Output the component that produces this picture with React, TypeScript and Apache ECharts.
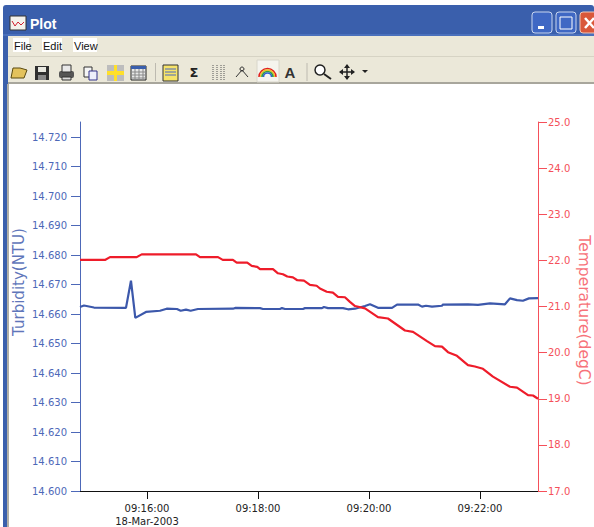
import React, { useEffect, useRef } from "react";
import * as echarts from "echarts";

// Seconds after 09:00:00
const turbidityTimes = [887.6,891.9,902.7,937.3,942.7,947.4,958.9,974.1,981.3,992.4,996.4,1002.2,1007.2,1015.1,1052.9,1055.9,1082.2,1085.4,1103.8,1105.9,1109.2,1128.6,1130.8,1149.2,1151.3,1155.7,1171.9,1177.3,1184.9,1195.7,1201.1,1209.7,1224.9,1230.3,1253,1257.3,1261.6,1268.1,1278.9,1280,1307,1317.8,1330.8,1347,1352.4,1360,1366.4,1372.9,1382.7];
const turbidityValues = [14.6624,14.6629,14.6622,14.6621,14.6713,14.6587,14.6607,14.6611,14.6618,14.6617,14.6611,14.6615,14.6611,14.6617,14.6618,14.6621,14.662,14.6617,14.6617,14.662,14.6617,14.6617,14.662,14.662,14.6624,14.662,14.662,14.6616,14.6618,14.6627,14.6633,14.6621,14.6621,14.6632,14.6632,14.6625,14.6628,14.6625,14.6628,14.6632,14.6633,14.6631,14.6636,14.6633,14.6653,14.6647,14.6645,14.6653,14.6654];
const temperatureTimes = [887.6,914.6,920,948.9,954.3,1013,1017.3,1036.8,1041.9,1052.9,1057,1068.4,1073.2,1079.2,1082.2,1096.2,1101.6,1107,1111.7,1117.8,1122.5,1129.7,1136.2,1143.4,1147,1154.3,1161,1166.5,1174,1179.4,1184.9,1195.7,1209.7,1220.5,1238.9,1247.6,1262.7,1271.3,1278.9,1285.4,1295.1,1307,1314.5,1323.2,1334,1352.4,1360,1371.9,1377.3,1382.7];
const temperatureValues = [22.01,22.01,22.07,22.07,22.13,22.13,22.07,22.07,22.01,22.01,21.95,21.95,21.88,21.86,21.81,21.81,21.72,21.7,21.65,21.63,21.57,21.56,21.47,21.45,21.39,21.32,21.3,21.21,21.2,21.1,21.01,20.96,20.77,20.74,20.48,20.45,20.25,20.14,20.13,20.01,19.93,19.73,19.7,19.65,19.48,19.26,19.24,19.08,19.07,19.0];
const timeTicks = [960, 1080, 1200, 1320];
const turbidityTicks = [14.6,14.61,14.62,14.63,14.64,14.65,14.66,14.67,14.68,14.69,14.7,14.71,14.72];
const menuItems = ["File", "Edit", "View"];
const dateLabel = "18-Mar-2003";

const BLUE = "#3c58ab";
const AXIS_BLUE = "#4d68b8";
const NAME_BLUE = "#5f76ba";
const RED = "#ee1c2a";
const AXIS_RED = "#f5505a";
const NAME_RED = "#f7727a";
const FONT = "'DejaVu Sans', sans-serif";

const fmtTime = (s: number) => {
  const m = Math.floor(s / 60);
  const sec = Math.round(s - m * 60);
  return `09:${String(m).padStart(2, "0")}:${String(sec).padStart(2, "0")}`;
};

const rect = (x: number, y: number, w: number, h: number, fill: string, extra: any = {}) => ({
  type: "rect", shape: { x, y, width: w, height: h, r: extra.r || 0 },
  style: { fill, stroke: extra.stroke, lineWidth: extra.lw || 1 }, silent: true,
});
const line = (x1: number, y1: number, x2: number, y2: number, stroke: string, lw = 1) => ({
  type: "line", shape: { x1, y1, x2, y2 }, style: { stroke, lineWidth: lw }, silent: true,
});
const txt = (x: number, y: number, text: string, fill: string, font: string, align = "left") => ({
  type: "text", x, y, style: { text, fill, font, textAlign: align, textVerticalAlign: "middle" }, silent: true,
});

function chrome(): any[] {
  const e: any[] = [];
  // window frame
  e.push(rect(0, 0, 594, 6, "#ffffff"));
  e.push(rect(3, 5, 591, 31, "#3a5fac", { r: 3 }));
  e.push(rect(3, 10, 5, 517, "#3a5fac"));
  e.push(rect(3, 34, 591, 2, "#4a70bc"));
  e.push(rect(8, 36, 586, 48, "#ebe8d9"));
  e.push(rect(8, 56, 586, 1, "#d6d3c4"));
  e.push(rect(8, 82, 586, 2, "#a8a69c"));
  e.push(rect(7, 84, 2, 443, "#b0aea6"));
  // title
  e.push(rect(10, 16, 16, 14, "#f4f2ec", { stroke: "#333333" }));
  e.push({ type: "polyline", shape: { points: [[12, 21], [15, 26], [18, 22], [21, 25], [24, 22]] }, style: { stroke: "#d02030", lineWidth: 1, fill: "none" }, silent: true });
  e.push(txt(30, 24, "Plot", "#ffffff", "bold 14px 'Liberation Sans', sans-serif"));
  // window buttons
  e.push(rect(532, 12, 20, 21, "#3f68c4", { stroke: "#c8d6f0", r: 3 }));
  e.push(rect(538, 26, 6, 3, "#ffffff"));
  e.push(rect(556, 12, 20, 21, "#3f68c4", { stroke: "#c8d6f0", r: 3 }));
  e.push(rect(560, 17, 12, 12, "none", { stroke: "#ffffff" }));
  e.push(rect(580, 12, 20, 21, "#d9583a", { stroke: "#eec8b8", r: 3 }));
  e.push(line(585, 18, 594, 28, "#ffffff", 2.5));
  e.push(line(594, 18, 585, 28, "#ffffff", 2.5));
  // menu
  const xs = [13, 42, 73];
  const ws = [16, 20, 24];
  menuItems.forEach((m, i) => {
    e.push(rect(xs[i], 38, ws[i], 14, "#ffffff"));
    e.push(txt(xs[i] + 1, 45.5, m, "#111111", "11px 'Liberation Sans', sans-serif"));
  });
  // toolbar: open
  e.push({ type: "polygon", shape: { points: [[11, 78], [13, 68], [20, 68], [27, 70], [24, 78]] }, style: { fill: "#e3c25c", stroke: "#5a4a10" }, silent: true });
  // save
  e.push(rect(35, 66, 14, 14, "#2f2f2f"));
  e.push(rect(38, 67, 8, 5, "#e8e8e0"));
  e.push(rect(38, 75, 8, 5, "#888888"));
  // print
  e.push(rect(59, 71, 15, 7, "#555555", { r: 2 }));
  e.push(rect(62, 65, 9, 7, "#e8e8e8", { stroke: "#333333" }));
  e.push(rect(62, 77, 9, 3, "#dddddd", { stroke: "#333333" }));
  // copy
  e.push(rect(84, 67, 8, 10, "#f5f5f5", { stroke: "#333333" }));
  e.push(rect(89, 71, 8, 9, "#eef0fa", { stroke: "#33338a" }));
  // crosshair
  e.push(rect(107, 65, 17, 16, "#bdbdbd"));
  e.push(rect(107, 71, 17, 4, "#ffe02a"));
  e.push(rect(114, 65, 3, 16, "#ffe02a"));
  // table
  e.push(rect(131, 66, 15, 14, "#e8e8e8", { stroke: "#222222" }));
  e.push(rect(131, 66, 15, 3, "#3a5fac"));
  [135, 139, 143].forEach((x) => e.push(line(x, 69, x, 80, "#888888")));
  [72, 75, 78].forEach((y) => e.push(line(131, y, 146, y, "#888888")));
  e.push(line(155.5, 63, 155.5, 81, "#bdbab0"));
  // note
  e.push(rect(163, 65, 15, 16, "#f6e36a", { stroke: "#333333" }));
  [69, 72, 75].forEach((y) => e.push(line(165, y, 176, y, "#4a68c0")));
  e.push(txt(194, 72, "Σ", "#222222", "bold 13px 'DejaVu Sans', sans-serif", "center"));
  // grid
  [213, 217, 221, 224].forEach((x) => e.push({ type: "line", shape: { x1: x, y1: 65, x2: x, y2: 80 }, style: { stroke: "#555555", lineDash: [1, 1] }, silent: true }));
  // peak
  e.push({ type: "polyline", shape: { points: [[236, 77], [242, 70], [248, 77]] }, style: { stroke: "#333333", fill: "none" }, silent: true });
  e.push({ type: "circle", shape: { cx: 242, cy: 69, r: 2 }, style: { fill: "none", stroke: "#333333" }, silent: true });
  // rainbow button
  e.push(rect(257, 60, 22, 22, "#f5f4ee", { stroke: "#d8d6ca" }));
  [["#e02020", 8.5], ["#f0c020", 7], ["#30a040", 5.5], ["#3060d0", 4]].forEach(([c, r]) =>
    e.push({ type: "arc", shape: { cx: 267.5, cy: 77, r: r as number, startAngle: Math.PI, endAngle: 2 * Math.PI }, style: { stroke: c as string, lineWidth: 1.6, fill: "none" }, silent: true }));
  // A
  e.push(txt(290, 72, "A", "#333333", "bold 15px 'Liberation Sans', sans-serif", "center"));
  e.push(line(307, 63, 307, 81, "#bdbab0"));
  // magnifier
  e.push({ type: "circle", shape: { cx: 320, cy: 70, r: 5 }, style: { fill: "#ffffff", stroke: "#222222", lineWidth: 1.5 }, silent: true });
  e.push(line(324, 74, 331, 79, "#222222", 2));
  // move
  e.push(line(340, 72, 354, 72, "#222222", 1.5));
  e.push(line(347, 65, 347, 79, "#222222", 1.5));
  e.push({ type: "polygon", shape: { points: [[347, 64], [344, 68], [350, 68]] }, style: { fill: "#222222" }, silent: true });
  e.push({ type: "polygon", shape: { points: [[347, 80], [344, 76], [350, 76]] }, style: { fill: "#222222" }, silent: true });
  e.push({ type: "polygon", shape: { points: [[339, 72], [343, 69], [343, 75]] }, style: { fill: "#222222" }, silent: true });
  e.push({ type: "polygon", shape: { points: [[355, 72], [351, 69], [351, 75]] }, style: { fill: "#222222" }, silent: true });
  // dropdown
  e.push({ type: "polygon", shape: { points: [[362, 70], [368, 70], [365, 73]] }, style: { fill: "#222222" }, silent: true });
  return e;
}

export default function App() {
  const ref = useRef<HTMLDivElement>(null);
  useEffect(() => {
    if (!ref.current) return;
    const chart = echarts.init(ref.current, undefined, { renderer: "svg" });
    chart.setOption({
      animation: false,
      backgroundColor: "#ffffff",
      grid: { left: 80, right: 56, top: 122, bottom: 36, outerBoundsMode: "none" },
      xAxis: {
        type: "value", min: 887.6, max: 1382.7, splitLine: { show: false },
        axisLine: { onZero: false, lineStyle: { color: "#111111", width: 1 } },
        axisTick: { customValues: timeTicks, length: 8, lineStyle: { color: "#111111" } },
        axisLabel: {
          customValues: timeTicks, margin: 11, color: "#222222", fontFamily: FONT, fontSize: 10, lineHeight: 13,
          formatter: (v: number) => (Math.round(v) === timeTicks[0] ? `${fmtTime(v)}\n${dateLabel}` : fmtTime(v)),
        },
      },
      yAxis: [
        {
          type: "value", position: "left", min: 14.6, max: 14.7251, splitLine: { show: false },
          name: "Turbidity(NTU)", nameLocation: "middle", nameGap: 54, nameMoveOverlap: false,
          nameTextStyle: { color: NAME_BLUE, fontFamily: FONT, fontSize: 15, padding: [0, 0, 0, 49] },
          axisLine: { show: true, onZero: false, lineStyle: { color: AXIS_BLUE } },
          axisTick: { show: true, customValues: turbidityTicks, length: 9, lineStyle: { color: AXIS_BLUE } },
          axisLabel: { customValues: turbidityTicks, margin: 13, color: AXIS_BLUE, fontFamily: FONT, fontSize: 10, formatter: (v: number) => v.toFixed(3) },
        },
        {
          type: "value", position: "right", min: 17, max: 25, interval: 1, splitLine: { show: false },
          name: "Temperature(degC)", nameLocation: "middle", nameGap: 38, nameRotate: -90, nameMoveOverlap: false,
          nameTextStyle: { color: NAME_RED, fontFamily: FONT, fontSize: 15.5, padding: [0, 0, 0, 8] },
          axisLine: { show: true, onZero: false, lineStyle: { color: AXIS_RED } },
          axisTick: { show: true, length: 9, lineStyle: { color: AXIS_RED } },
          axisLabel: { margin: 10, color: AXIS_RED, fontFamily: FONT, fontSize: 10, formatter: (v: number) => v.toFixed(1) },
        },
      ],
      series: [
        {
          type: "line", name: "Turbidity(NTU)", yAxisIndex: 0, showSymbol: false, z: 3,
          lineStyle: { color: BLUE, width: 2.2 }, itemStyle: { color: BLUE },
          data: turbidityTimes.map((t, i) => [t, turbidityValues[i]]),
        },
        {
          type: "line", name: "Temperature(degC)", yAxisIndex: 1, showSymbol: false, z: 4,
          lineStyle: { color: RED, width: 2.2 }, itemStyle: { color: RED },
          data: temperatureTimes.map((t, i) => [t, temperatureValues[i]]),
        },
      ],
      graphic: { elements: chrome() },
    });
    return () => chart.dispose();
  }, []);
  return <div ref={ref} style={{ position: "fixed", left: 0, top: 0, width: 594, height: 527 }} />;
}
